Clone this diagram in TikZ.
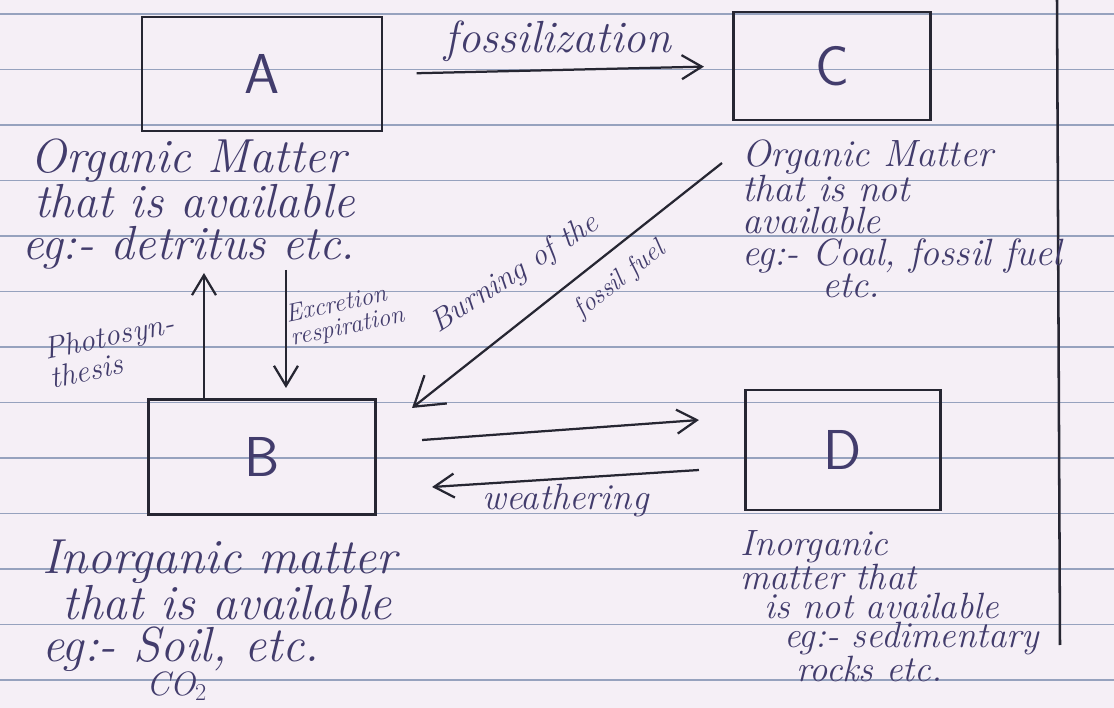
\documentclass[tikz,border=0pt]{standalone}
\usepackage{tikz}
\usetikzlibrary{calc,positioning,arrows.meta}
\definecolor{paper}{RGB}{245,239,246}
\definecolor{ruling}{RGB}{150,162,190}
\definecolor{ink}{RGB}{66,60,108}
\definecolor{pen}{RGB}{38,38,50}
\newcommand*{\handfont}[2]{\fontsize{#1}{#2}\selectfont\itshape}
\tikzset{%
  pool/.style={draw=pen, line width=2pt, text=ink,
    font=\fontsize{40}{40}\selectfont\sffamily},% the four boxes
  notes/.style={text=ink, align=left, inner sep=0pt, anchor=north west},% text under a box
  flow/.style={draw=pen, line width=1.6pt,
    -{Straight Barb[length=5mm,width=6mm]}},% arrows between pools
  tag/.style={text=ink, inner sep=1pt},% words on the arrows
  paperline/.style={ruling, line width=1pt}% ruled lines of the page
}

\begin{document}
\begin{tikzpicture}[x=0.025cm, y=-0.025cm]
\useasboundingbox (0,0) rectangle (1114,708);

% page
\fill[paper] (0,0) rectangle (1114,708);
\foreach \k in {0,...,12}
  \draw[paperline] (0,{14+55.5*\k}) -- (1114,{14+55.5*\k});
\draw[pen, line width=1.8pt] (1057,0) -- (1060,645);

% pools
\node[pool, minimum width=6cm, minimum height=2.85cm] (A) at (262,74) {A};
\node[pool, minimum width=4.93cm, minimum height=2.7cm] (C) at (832,66) {C};
\node[pool, minimum width=5.68cm, minimum height=2.88cm] (B) at (262,457) {B};
\node[pool, minimum width=4.88cm, minimum height=3cm] (D) at (843,450) {D};

\node[notes, font=\handfont{34}{30}] (aText) at (22,139)
  {\hspace*{0.2cm}Organic Matter\\ \hspace*{0.3cm}that is available\\ eg:- detritus etc.};
\node[notes, font=\handfont{27}{22.8}] (cText) at (742,139)
  {Organic Matter\\ that is not\\ available\\ eg:- Coal, fossil fuel\\ \hspace*{2cm}etc.};
\node[notes, font=\handfont{35}{30}] (bText) at (42,540)
  {Inorganic matter\\ \hspace*{0.5cm}that is available\\ eg:- Soil, etc.\\[-6pt]
   \hspace*{2.6cm}{\fontsize{24}{24}\selectfont CO$_2$}};
\node[notes, font=\handfont{26}{20.6}] (dText) at (740,530)
  {Inorganic\\ matter that\\ \hspace*{0.6cm}is not available\\
   \hspace*{1.1cm}eg:- sedimentary\\ \hspace*{1.4cm}rocks etc.};

% fluxes
\draw[flow, shorten <=0.83cm, shorten >=0.7cm] (A.east) --
  node[tag, above=4pt, font=\handfont{32}{32}] (fossil) {fossilization} (C.west);
\draw[flow] ($(B.north west)+(57,0)$) -- ++(0,-125);
\draw[flow] ($(B.north west)+(139,-128)$) -- ++(0,118);
\draw[flow, -{Straight Barb[length=7mm,width=9mm]}]
  ($(cText.north west)+(-20,24)$) -- ($(B.north east)+(35,10)$);
\draw[flow] ($(B.east)+(45,-17)$) -- ($(D.west)+(-45,-30)$);
\draw[flow] ($(D.west)+(-45,20)$) --
  node[tag, below=2pt, font=\handfont{26}{26}] (weather) {weathering} ($(B.east)+(55,30)$);

\node[tag, rotate=12, align=left, font=\handfont{22}{19}] (photo) at (112,350)
  {Photosyn-\\ thesis};
\node[tag, rotate=12, align=left, font=\handfont{18}{17}] (excr) at (345,316)
  {Excretion\\ respiration};
\node[tag, rotate=33, font=\handfont{22}{22}] (burn) at (515,274) {Burning of the};
\node[tag, rotate=38, font=\handfont{19}{19}] (fuel) at (620,280) {fossil fuel};

\end{tikzpicture}
\end{document}
